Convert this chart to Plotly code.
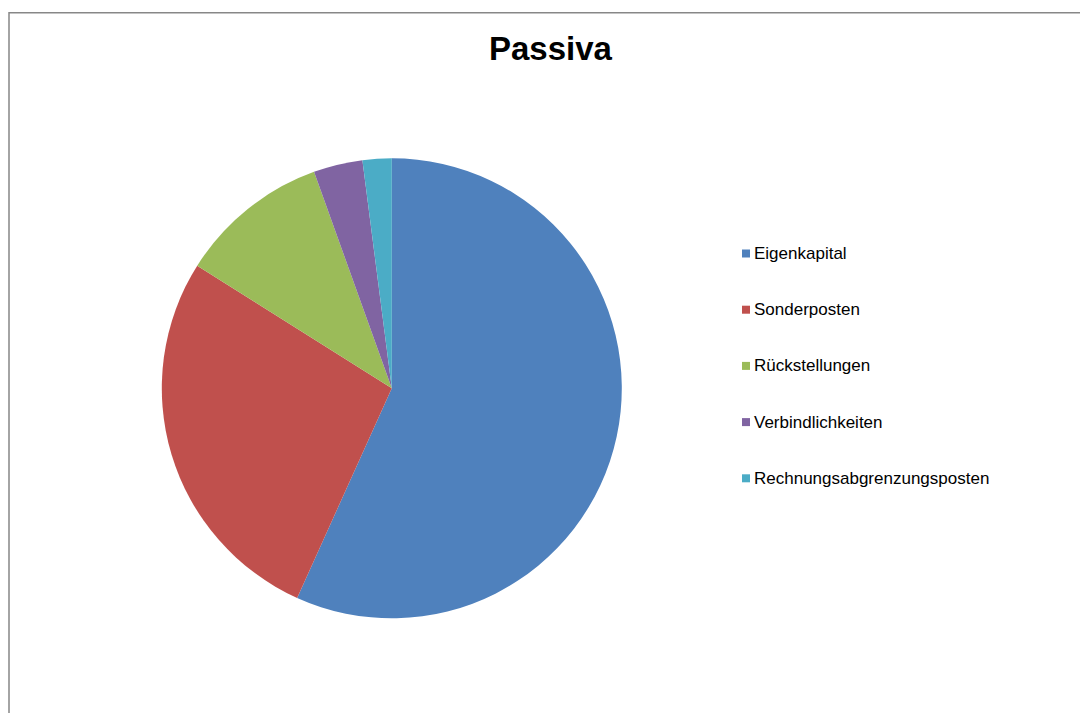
import plotly.graph_objects as go

# Data
labels = ["Eigenkapital", "Sonderposten", "Rückstellungen", "Verbindlichkeiten", "Rechnungsabgrenzungsposten"]
values = [56.75, 27.2, 10.56, 3.45, 2.04]
colors = ["#4F81BD", "#C0504D", "#9BBB59", "#8064A2", "#4BACC6"]
title_text = "Passiva"

W, H = 1088, 713
OFF = 8  # page body margin offset

def px_x(x):
    return (x - OFF) / W

def px_y(y):
    return 1 - (y - OFF) / H

cx, cy, r = 391.8, 388.3, 230.0

fig = go.Figure()
fig.add_trace(go.Pie(
    labels=labels,
    values=values,
    marker=dict(colors=colors, line=dict(width=0)),
    sort=False,
    direction="clockwise",
    rotation=0,
    textinfo="none",
    hoverinfo="label+percent",
    showlegend=False,
    domain=dict(x=[px_x(cx - r), px_x(cx + r)], y=[px_y(cy + r), px_y(cy - r)]),
))

shapes = [
    dict(type="rect", xref="paper", yref="paper",
         x0=px_x(9), x1=px_x(1100), y0=px_y(740), y1=px_y(12.8),
         line=dict(color="#878787", width=1.5), fillcolor="rgba(0,0,0,0)", layer="below"),
]
annotations = [
    dict(text="<b>" + title_text + "</b>", x=px_x(551), y=px_y(48), xref="paper", yref="paper",
         xanchor="center", yanchor="middle", showarrow=False,
         font=dict(family="Liberation Sans, Arial, sans-serif", size=33, color="#000000")),
]

leg_y0, leg_dy = 253.5, 56.2
sq = 8
for i, (lab, col) in enumerate(zip(labels, colors)):
    yc = leg_y0 + i * leg_dy
    shapes.append(dict(type="rect", xref="paper", yref="paper",
                       x0=px_x(742), x1=px_x(742 + sq), y0=px_y(yc + sq / 2), y1=px_y(yc - sq / 2),
                       line=dict(width=0), fillcolor=col))
    annotations.append(dict(text=lab, x=px_x(752), y=px_y(yc), xref="paper", yref="paper",
                            xanchor="left", yanchor="middle", showarrow=False,
                            font=dict(family="Liberation Sans, Arial, sans-serif", size=17, color="#000000")))

fig.update_layout(
    width=W, height=H,
    margin=dict(l=0, r=0, t=0, b=0),
    paper_bgcolor="#FFFFFF",
    plot_bgcolor="#FFFFFF",
    shapes=shapes,
    annotations=annotations,
)

fig.write_html("out.html")
